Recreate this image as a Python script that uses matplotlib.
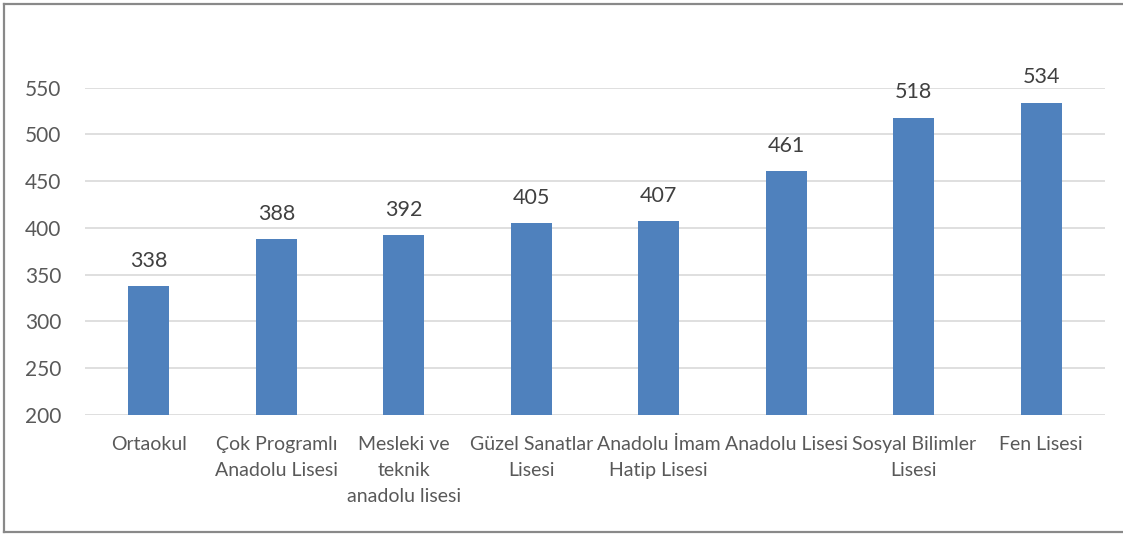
import matplotlib
matplotlib.use("Agg")
import matplotlib.pyplot as plt
from matplotlib.lines import Line2D

categories = [
    "Ortaokul",
    "Çok Programlı\nAnadolu Lisesi",
    "Mesleki ve\nteknik\nanadolu lisesi",
    "Güzel Sanatlar\nLisesi",
    "Anadolu İmam\nHatip Lisesi",
    "Anadolu Lisesi",
    "Sosyal Bilimler\nLisesi",
    "Fen Lisesi",
]
scores = [338, 388, 392, 405, 407, 461, 518, 534]
yticks = [200, 250, 300, 350, 400, 450, 500, 550]

W, H = 1123, 534
fig = plt.figure(figsize=(W / 100, H / 100), dpi=100)
fig.patch.set_facecolor("white")

plt.rcParams["font.family"] = ["Lato", "DejaVu Sans"]
text_color = "#595959"

ax = fig.add_axes([85 / W, 1 - 415 / H, (1105 - 85) / W, (415 - 87.7) / H])
x = range(len(categories))
bars = ax.bar(x, scores, width=0.32, color="#4f81bd", zorder=3)

for xi, v in zip(x, scores):
    ax.annotate(str(v), (xi, v), xytext=(0, 11), textcoords="offset points",
                ha="center", va="bottom", fontsize=15.5, color="#404040")

ax.set_xlim(-0.5, len(categories) - 0.5)
ax.set_ylim(200, 550)
ax.set_yticks(yticks)
ax.set_yticklabels([str(t) for t in yticks], fontsize=15, color=text_color)
ax.set_xticks(list(x))
ax.set_xticklabels(categories, fontsize=14, color=text_color, linespacing=1.65,
                   va="top")
ax.tick_params(axis="both", length=0)
ax.tick_params(axis="y", pad=17)
ax.tick_params(axis="x", pad=15)
ax.yaxis.grid(True, color="#d9d9d9", linewidth=1.2, zorder=0)
for s in ax.spines.values():
    s.set_visible(False)

# outer frame of the chart area
frame_kw = dict(color="#898989", linewidth=1.6, transform=fig.transFigure)
fig.add_artist(Line2D([3.5 / W, 1.0], [1 - 3.5 / H, 1 - 3.5 / H], **frame_kw))
fig.add_artist(Line2D([3.5 / W, 3.5 / W], [1 - 3.5 / H, 1 - 532 / H], **frame_kw))
fig.add_artist(Line2D([3.5 / W, 1.0], [1 - 532 / H, 1 - 532 / H], **frame_kw))

fig.savefig("out.png", dpi=100)
